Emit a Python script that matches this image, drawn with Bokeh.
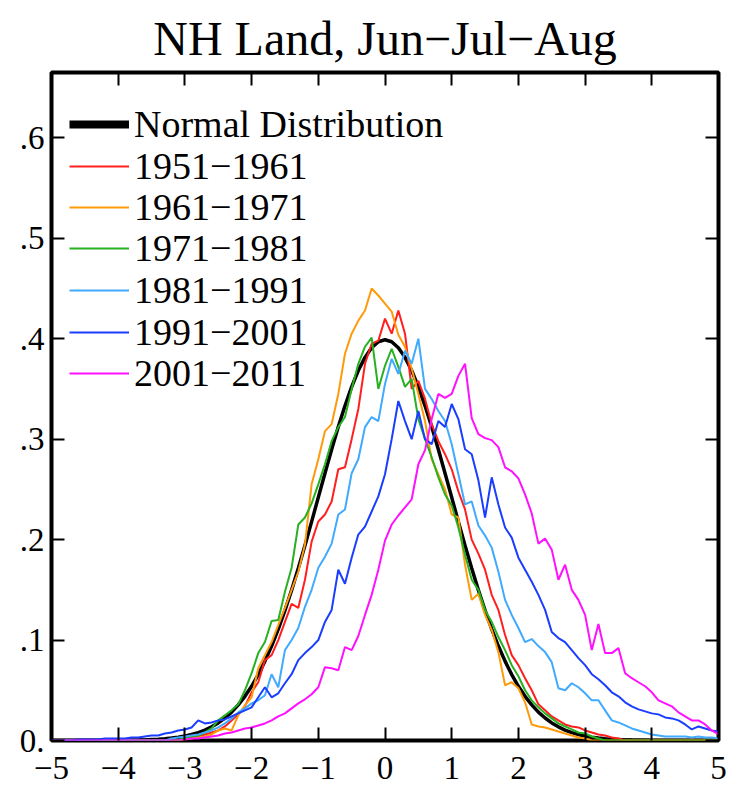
import math
from bokeh.plotting import figure
from bokeh.models import Range1d, LinearAxis, FixedTicker, Legend, LegendItem
from bokeh.embed import file_html
from bokeh.resources import INLINE

# bin centres (standardized temperature anomaly), -5 .. 5 in steps of 0.1
x_bins = [round(-5 + 0.1 * i, 1) for i in range(101)]

normal_pdf = [
    0, 0, 0, 0, 0, 0, 0, 0, 0.0001, 0.0001,
    0.0001, 0.0002, 0.0003, 0.0004, 0.0006, 0.0009, 0.0012, 0.0017, 0.0024, 0.0033,
    0.0044, 0.0060, 0.0079, 0.0104, 0.0136, 0.0175, 0.0224, 0.0283, 0.0355, 0.0440,
    0.0540, 0.0656, 0.0790, 0.0940, 0.1109, 0.1295, 0.1497, 0.1714, 0.1942, 0.2179,
    0.2420, 0.2661, 0.2897, 0.3123, 0.3332, 0.3521, 0.3683, 0.3814, 0.3910, 0.3970,
    0.3989,
    0.3970, 0.3910, 0.3814, 0.3683, 0.3521, 0.3332, 0.3123, 0.2897, 0.2661, 0.2420,
    0.2179, 0.1942, 0.1714, 0.1497, 0.1295, 0.1109, 0.0940, 0.0790, 0.0656, 0.0540,
    0.0440, 0.0355, 0.0283, 0.0224, 0.0175, 0.0136, 0.0104, 0.0079, 0.0060, 0.0044,
    0.0033, 0.0024, 0.0017, 0.0012, 0.0009, 0.0006, 0.0004, 0.0003, 0.0002, 0.0001,
    0.0001, 0.0001, 0, 0, 0, 0, 0, 0, 0, 0,
]

d1951_1961 = [
    0, 0, 0, 0, 0, 0, 0, 0, 0, 0,
    0, 0, 0, 0, 0, 0, 0, 0, 0, 0,
    0.002, 0.003, 0.004, 0.006, 0.008, 0.010, 0.014, 0.020, 0.026, 0.034,
    0.048, 0.058, 0.080, 0.085, 0.100, 0.118, 0.136, 0.132, 0.160, 0.198,
    0.218, 0.225, 0.238, 0.270, 0.272, 0.300, 0.330, 0.375, 0.395, 0.398,
    0.420, 0.405, 0.428, 0.405, 0.350, 0.358, 0.340, 0.315, 0.298, 0.285,
    0.270, 0.248, 0.230, 0.200, 0.186, 0.170, 0.145, 0.130, 0.105, 0.085,
    0.075, 0.062, 0.050, 0.036, 0.030, 0.024, 0.020, 0.016, 0.014, 0.013,
    0.010, 0.008, 0.006, 0.005, 0.003, 0.002, 0, 0, 0, 0,
    0, 0, 0, 0, 0, 0, 0, 0, 0, 0, 0,
]

d1961_1971 = [
    0, 0, 0, 0, 0, 0, 0, 0, 0, 0,
    0, 0, 0, 0, 0, 0, 0, 0, 0, 0,
    0.001, 0.002, 0.003, 0.004, 0.006, 0.010, 0.012, 0.010, 0.025, 0.035,
    0.043, 0.072, 0.085, 0.098, 0.115, 0.132, 0.150, 0.168, 0.195, 0.255,
    0.280, 0.308, 0.315, 0.345, 0.385, 0.405, 0.418, 0.428, 0.450, 0.443,
    0.435, 0.427, 0.404, 0.392, 0.370, 0.345, 0.318, 0.280, 0.265, 0.250,
    0.225, 0.222, 0.175, 0.140, 0.146, 0.125, 0.110, 0.088, 0.055, 0.058,
    0.052, 0.038, 0.016, 0.014, 0.013, 0.011, 0.009, 0.007, 0.005, 0.003,
    0.002, 0, 0, 0, 0, 0, 0, 0, 0, 0,
    0, 0, 0, 0, 0, 0, 0, 0, 0, 0, 0,
]

d1971_1981 = [
    0, 0, 0, 0, 0, 0, 0, 0, 0, 0,
    0, 0, 0, 0, 0, 0, 0, 0, 0, 0,
    0.003, 0.004, 0.005, 0.008, 0.012, 0.020, 0.025, 0.030, 0.036, 0.050,
    0.067, 0.087, 0.098, 0.119, 0.120, 0.148, 0.172, 0.215, 0.222, 0.236,
    0.255, 0.275, 0.298, 0.312, 0.322, 0.350, 0.375, 0.392, 0.401, 0.350,
    0.373, 0.390, 0.372, 0.352, 0.360, 0.320, 0.300, 0.282, 0.262, 0.245,
    0.234, 0.212, 0.185, 0.160, 0.150, 0.130, 0.118, 0.103, 0.090, 0.075,
    0.064, 0.050, 0.040, 0.033, 0.027, 0.022, 0.017, 0.014, 0.011, 0.008,
    0.007, 0.004, 0.002, 0, 0, 0, 0, 0, 0, 0,
    0, 0, 0, 0, 0, 0, 0, 0, 0, 0, 0,
]

d1981_1991 = [
    0, 0, 0, 0, 0, 0, 0, 0, 0, 0,
    0, 0, 0, 0, 0, 0, 0, 0, 0.002, 0.003,
    0.004, 0.005, 0.006, 0.008, 0.010, 0.013, 0.017, 0.022, 0.028, 0.032,
    0.037, 0.040, 0.045, 0.066, 0.053, 0.090, 0.100, 0.112, 0.133, 0.150,
    0.172, 0.183, 0.196, 0.225, 0.230, 0.266, 0.280, 0.312, 0.322, 0.318,
    0.355, 0.380, 0.365, 0.388, 0.375, 0.400, 0.350, 0.340, 0.328, 0.318,
    0.295, 0.265, 0.235, 0.238, 0.214, 0.204, 0.192, 0.168, 0.140, 0.125,
    0.112, 0.098, 0.101, 0.094, 0.088, 0.078, 0.052, 0.050, 0.057, 0.053,
    0.047, 0.040, 0.040, 0.030, 0.020, 0.018, 0.015, 0.012, 0.010, 0.008,
    0.006, 0.005, 0.004, 0.004, 0.004, 0.004, 0.003, 0.004, 0.003, 0.003, 0.002,
]

d1991_2001 = [
    0, 0, 0, 0, 0.001, 0.001, 0.001, 0.001, 0.002, 0.002,
    0.002, 0.002, 0.003, 0.003, 0.004, 0.005, 0.005, 0.007, 0.008, 0.010,
    0.011, 0.013, 0.020, 0.017, 0.018, 0.020, 0.021, 0.024, 0.027, 0.030,
    0.033, 0.043, 0.053, 0.043, 0.047, 0.057, 0.066, 0.080, 0.087, 0.093,
    0.100, 0.118, 0.130, 0.170, 0.156, 0.182, 0.205, 0.213, 0.228, 0.243,
    0.265, 0.300, 0.338, 0.318, 0.300, 0.328, 0.300, 0.295, 0.318, 0.312,
    0.335, 0.320, 0.290, 0.285, 0.259, 0.222, 0.262, 0.235, 0.212, 0.202,
    0.182, 0.170, 0.158, 0.145, 0.130, 0.108, 0.102, 0.098, 0.090, 0.082,
    0.075, 0.066, 0.061, 0.055, 0.048, 0.044, 0.038, 0.034, 0.031, 0.029,
    0.027, 0.026, 0.023, 0.022, 0.020, 0.016, 0.011, 0.014, 0.012, 0.010, 0.009,
]

d2001_2011 = [
    0, 0, 0, 0, 0, 0, 0, 0, 0, 0,
    0, 0, 0, 0, 0, 0, 0, 0, 0, 0,
    0.001, 0.002, 0.002, 0.003, 0.004, 0.005, 0.007, 0.008, 0.010, 0.012,
    0.013, 0.015, 0.017, 0.020, 0.024, 0.027, 0.032, 0.037, 0.041, 0.046,
    0.053, 0.073, 0.072, 0.070, 0.093, 0.090, 0.104, 0.125, 0.145, 0.170,
    0.199, 0.215, 0.224, 0.232, 0.240, 0.275, 0.289, 0.320, 0.345, 0.341,
    0.345, 0.363, 0.375, 0.321, 0.305, 0.301, 0.299, 0.292, 0.272, 0.268,
    0.261, 0.245, 0.226, 0.196, 0.201, 0.190, 0.160, 0.175, 0.150, 0.140,
    0.125, 0.090, 0.116, 0.087, 0.087, 0.092, 0.067, 0.062, 0.058, 0.054,
    0.048, 0.040, 0.037, 0.034, 0.028, 0.024, 0.020, 0.020, 0.016, 0.010, 0.006,
]

series_labels = ["1951\u22121961", "1961\u22121971", "1971\u22121981",
                 "1981\u22121991", "1991\u22122001", "2001\u22122011"]
series_values = [d1951_1961, d1961_1971, d1971_1981, d1981_1991, d1991_2001, d2001_2011]
series_colors = ["#FF1F1F", "#FF9A0A", "#27B020", "#40AAFF", "#1A3DFF", "#FF10FF"]

x_ticks = [-5, -4, -3, -2, -1, 0, 1, 2, 3, 4, 5]
x_tick_labels = ["\u22125", "\u22124", "\u22123", "\u22122", "\u22121", "0", "1", "2", "3", "4", "5"]
y_ticks = [0, 0.1, 0.2, 0.3, 0.4, 0.5, 0.6]
y_tick_labels = ["0.", ".1", ".2", ".3", ".4", ".5", ".6"]

FONT = "Liberation Serif"

p = figure(width=734, height=785, output_backend="svg", toolbar_location=None,
           x_range=Range1d(-5, 5), y_range=Range1d(0, 0.665),
           x_axis_location=None, y_axis_location=None,
           min_border_left=51, min_border_right=16, min_border_top=72, min_border_bottom=45)
p.grid.visible = False
p.outline_line_color = "black"
p.outline_line_width = 4
p.background_fill_color = "white"
p.border_fill_color = "white"

p.title.text = "NH Land, Jun\u2212Jul\u2212Aug"
p.title.align = "center"
p.title.text_font = FONT
p.title.text_font_size = "48px"
p.title.text_font_style = "normal"
p.title.text_color = "black"
p.title.standoff = 16


def style_axis(ax, show_labels, font_size="32px"):
    ax.axis_line_color = None
    ax.major_tick_line_color = "black"
    ax.major_tick_line_width = 2
    ax.major_tick_in = 13
    ax.major_tick_out = 0
    ax.minor_tick_line_color = None
    ax.major_label_text_font = FONT
    if show_labels:
        ax.major_label_text_color = "black"
        ax.major_label_text_font_size = font_size
    else:
        ax.major_label_text_color = None
        ax.major_label_text_font_size = "1px"
        ax.major_label_standoff = 0


xb = LinearAxis(ticker=FixedTicker(ticks=x_ticks),
                major_label_overrides={t: s for t, s in zip(x_ticks, x_tick_labels)})
style_axis(xb, True, "33px")
xb.major_label_standoff = 16
xb.major_label_text_line_height = 0.6
p.add_layout(xb, "below")

xt = LinearAxis(ticker=FixedTicker(ticks=x_ticks))
style_axis(xt, False)
p.add_layout(xt, "above")

yl = LinearAxis(ticker=FixedTicker(ticks=y_ticks),
                major_label_overrides={t: s for t, s in zip(y_ticks, y_tick_labels)})
style_axis(yl, True, "33px")
yl.major_label_standoff = 7
p.add_layout(yl, "left")

yr = LinearAxis(ticker=FixedTicker(ticks=y_ticks))
style_axis(yr, False)
p.add_layout(yr, "right")

# normal distribution (plot line) and a thicker dummy for the legend swatch
p.line(x_bins, normal_pdf, line_color="black", line_width=3.5)
dummy = p.line([math.nan], [math.nan], line_color="black", line_width=8)
legend_entries = [("Normal Distribution", dummy)]

for lab, vals, col in zip(series_labels, series_values, series_colors):
    r = p.line(x_bins, vals, line_color=col, line_width=2)
    legend_entries.append((lab, r))

# one single-entry legend box per row, so the row pitch can follow the original
ROW_PITCH = 41.5
FIRST_BOTTOM = 594
for i, (lab, rend) in enumerate(legend_entries):
    lg = Legend(items=[LegendItem(label=lab, renderers=[rend])],
                location=(18, round(FIRST_BOTTOM - ROW_PITCH * i)))
    lg.background_fill_alpha = 0
    lg.border_line_color = None
    lg.label_text_font = FONT
    lg.label_text_font_size = "38px"
    lg.label_text_color = "black"
    lg.glyph_width = 60
    lg.glyph_height = 30
    lg.label_height = 30
    lg.label_standoff = 5
    lg.spacing = 0
    lg.padding = 0
    lg.margin = 0
    p.add_layout(lg)

open("out.html", "w").write(file_html(p, INLINE))
